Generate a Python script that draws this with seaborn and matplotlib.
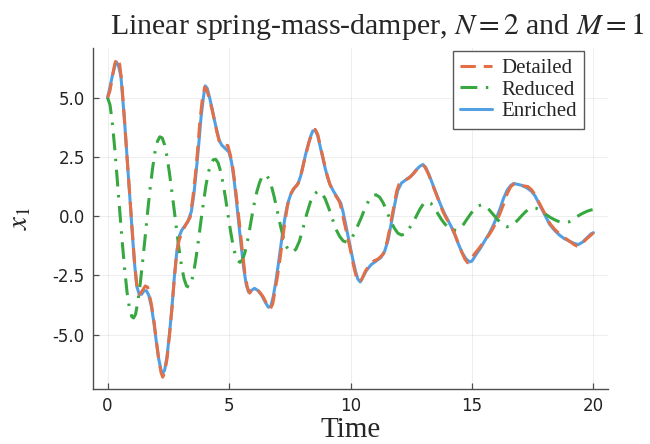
import pandas as pd
import seaborn as sns
import matplotlib.pyplot as plt
from matplotlib.ticker import FormatStrFormatter

# Displacement x_1 of the first mass, as (time, value) pairs for each model
detailed_points = [
    (0.0, 5.0), (0.1, 5.3), (0.2, 5.9), (0.3, 6.45), (0.4, 6.68), (0.5, 6.4), (0.58, 5.7),
    (0.7, 4.0), (0.8, 2.5), (0.9, 1.1), (1.0, -0.4), (1.1, -1.8), (1.2, -2.9), (1.3, -3.3),
    (1.4, -3.2), (1.55, -2.95), (1.65, -3.0), (1.8, -3.7), (1.9, -4.35), (2.0, -5.2),
    (2.1, -6.0), (2.2, -6.6), (2.27, -6.8), (2.35, -6.6), (2.45, -6.0), (2.55, -5.0),
    (2.65, -3.9), (2.75, -2.6), (2.85, -1.5), (2.95, -1.0), (3.1, -0.6), (3.25, -0.3),
    (3.4, -0.05), (3.5, 0.7), (3.6, 1.6), (3.7, 2.7), (3.8, 4.0), (3.9, 4.95), (4.0, 5.45),
    (4.1, 5.3), (4.2, 4.9), (4.3, 4.5), (4.4, 4.05), (4.5, 3.55), (4.6, 3.15), (4.7, 3.0),
    (4.8, 3.0), (4.95, 2.98), (5.05, 2.6), (5.15, 2.1), (5.25, 1.3), (5.35, 0.4),
    (5.45, -0.5), (5.55, -1.5), (5.65, -2.4), (5.75, -3.0), (5.85, -3.25), (5.95, -3.1),
    (6.1, -3.05), (6.25, -3.2), (6.4, -3.4), (6.55, -3.7), (6.7, -3.92), (6.8, -3.7),
    (6.9, -3.1), (7.0, -2.5), (7.1, -1.8), (7.2, -1.0), (7.3, -0.25), (7.4, 0.4),
    (7.5, 0.85), (7.65, 1.15), (7.8, 1.3), (7.9, 1.5), (8.0, 1.9), (8.1, 2.35), (8.2, 2.75),
    (8.3, 3.15), (8.4, 3.45), (8.5, 3.65), (8.55, 3.66), (8.65, 3.45), (8.75, 3.0),
    (8.85, 2.55), (8.95, 2.1), (9.05, 1.7), (9.15, 1.35), (9.25, 1.1), (9.4, 0.85),
    (9.55, 0.6), (9.65, 0.2), (9.75, -0.3), (9.85, -0.75), (9.95, -1.2), (10.05, -1.7),
    (10.15, -2.2), (10.25, -2.6), (10.35, -2.78), (10.45, -2.7), (10.6, -2.35),
    (10.75, -2.1), (10.95, -1.9), (11.15, -1.8), (11.35, -1.6), (11.5, -1.1), (11.6, -0.6),
    (11.7, -0.05), (11.8, 0.5), (11.9, 1.05), (12.0, 1.35), (12.2, 1.5), (12.4, 1.6),
    (12.6, 1.8), (12.8, 2.05), (12.95, 2.16), (13.05, 2.1), (13.2, 1.8), (13.35, 1.4),
    (13.5, 1.0), (13.65, 0.6), (13.8, 0.2), (13.95, -0.1), (14.1, -0.35), (14.25, -0.65),
    (14.4, -1.05), (14.55, -1.45), (14.7, -1.8), (14.82, -1.97), (14.95, -1.85),
    (15.1, -1.6), (15.3, -1.35), (15.5, -1.05), (15.7, -0.8), (15.85, -0.55), (16.0, -0.25),
    (16.15, 0.1), (16.3, 0.5), (16.45, 0.95), (16.6, 1.25), (16.75, 1.37), (16.9, 1.35),
    (17.1, 1.28), (17.3, 1.25), (17.45, 1.12), (17.6, 0.9), (17.75, 0.6), (17.9, 0.3),
    (18.05, 0.0), (18.2, -0.3), (18.4, -0.55), (18.6, -0.75), (18.8, -0.9), (19.0, -1.05),
    (19.2, -1.2), (19.35, -1.28), (19.5, -1.2), (19.7, -0.98), (19.9, -0.8), (20.0, -0.7),
]

reduced_points = [
    (0.0, 5.0), (0.1, 4.7), (0.2, 3.9), (0.3, 2.8), (0.4, 1.5), (0.5, 0.2), (0.6, -1.05),
    (0.7, -2.2), (0.8, -3.2), (0.9, -3.9), (1.0, -4.25), (1.07, -4.3), (1.15, -4.15),
    (1.25, -3.6), (1.35, -2.8), (1.45, -1.85), (1.55, -0.85), (1.65, 0.2), (1.75, 1.15),
    (1.85, 2.0), (1.95, 2.7), (2.05, 3.15), (2.15, 3.35), (2.25, 3.3), (2.35, 3.0),
    (2.45, 2.5), (2.55, 1.8), (2.65, 1.0), (2.75, 0.2), (2.85, -0.65), (2.95, -1.45),
    (3.05, -2.15), (3.15, -2.65), (3.25, -2.95), (3.35, -3.0), (3.45, -2.8), (3.55, -2.35),
    (3.65, -1.7), (3.75, -0.95), (3.85, -0.15), (3.95, 0.6), (4.05, 1.3), (4.15, 1.85),
    (4.25, 2.2), (4.35, 2.38), (4.45, 2.4), (4.55, 2.25), (4.65, 1.9), (4.75, 1.4),
    (4.85, 0.8), (4.95, 0.1), (5.05, -0.55), (5.15, -1.15), (5.25, -1.6), (5.35, -1.88),
    (5.45, -1.95), (5.55, -1.85), (5.65, -1.55), (5.75, -1.1), (5.85, -0.55), (5.95, 0.05),
    (6.05, 0.6), (6.15, 1.05), (6.25, 1.4), (6.35, 1.65), (6.45, 1.75), (6.55, 1.72),
    (6.65, 1.55), (6.75, 1.25), (6.85, 0.85), (6.95, 0.4), (7.05, -0.1), (7.15, -0.55),
    (7.25, -0.95), (7.35, -1.25), (7.45, -1.45), (7.6, -1.52), (7.75, -1.4), (7.9, -1.05),
    (8.05, -0.5), (8.2, 0.1), (8.35, 0.6), (8.5, 0.92), (8.65, 1.05), (8.8, 1.0),
    (8.95, 0.75), (9.1, 0.35), (9.25, -0.1), (9.4, -0.55), (9.55, -0.85), (9.7, -1.05),
    (9.85, -1.1), (10.0, -1.0), (10.15, -0.75), (10.3, -0.4), (10.45, -0.05), (10.6, 0.35),
    (10.75, 0.65), (10.9, 0.85), (11.05, 0.9), (11.2, 0.8), (11.35, 0.55), (11.5, 0.2),
    (11.65, -0.2), (11.8, -0.5), (11.95, -0.72), (12.1, -0.8), (12.25, -0.75),
    (12.4, -0.55), (12.55, -0.3), (12.7, -0.02), (12.85, 0.28), (13.0, 0.52), (13.15, 0.62),
    (13.3, 0.55), (13.45, 0.35), (13.6, 0.1), (13.75, -0.15), (13.9, -0.35), (14.05, -0.5),
    (14.2, -0.58), (14.35, -0.6), (14.5, -0.52), (14.65, -0.35), (14.8, -0.12), (14.95, 0.1),
    (15.1, 0.3), (15.25, 0.43), (15.4, 0.48), (15.55, 0.42), (15.7, 0.28), (15.85, 0.1),
    (16.0, -0.08), (16.15, -0.25), (16.3, -0.38), (16.45, -0.45), (16.6, -0.42),
    (16.75, -0.3), (16.9, -0.15), (17.05, 0.02), (17.2, 0.18), (17.35, 0.3), (17.5, 0.35),
    (17.65, 0.33), (17.8, 0.25), (17.95, 0.14), (18.1, 0.03), (18.25, -0.07), (18.4, -0.15),
    (18.55, -0.22), (18.7, -0.26), (18.85, -0.27), (19.0, -0.24), (19.15, -0.15),
    (19.3, -0.04), (19.45, 0.06), (19.6, 0.14), (19.75, 0.21), (19.9, 0.26), (20.0, 0.28),
]

enriched_points = [
    (0.0, 5.0), (0.1, 5.45), (0.2, 5.95), (0.3, 6.35), (0.37, 6.5), (0.45, 6.35),
    (0.55, 5.9), (0.7, 4.0), (0.8, 2.5), (0.9, 1.05), (1.0, -0.45), (1.1, -1.9),
    (1.2, -2.95), (1.3, -3.3), (1.4, -3.3), (1.5, -3.15), (1.6, -3.15), (1.7, -3.35),
    (1.8, -3.8), (1.9, -4.45), (2.0, -5.25), (2.1, -6.0), (2.2, -6.5), (2.27, -6.65),
    (2.35, -6.5), (2.45, -5.9), (2.55, -4.95), (2.65, -3.85), (2.75, -2.55), (2.85, -1.5),
    (2.95, -0.85), (3.05, -0.6), (3.15, -0.45), (3.3, -0.25), (3.45, 0.2), (3.55, 0.9),
    (3.65, 1.9), (3.75, 3.0), (3.85, 4.2), (3.95, 5.05), (4.02, 5.5), (4.1, 5.4), (4.2, 5.0),
    (4.3, 4.55), (4.4, 4.05), (4.5, 3.6), (4.6, 3.2), (4.7, 3.0), (4.8, 2.9), (4.9, 2.8),
    (5.0, 2.7), (5.1, 2.3), (5.2, 1.6), (5.3, 0.7), (5.4, -0.3), (5.5, -1.25), (5.6, -2.15),
    (5.7, -2.85), (5.8, -3.2), (5.9, -3.15), (6.05, -3.05), (6.2, -3.15), (6.35, -3.35),
    (6.5, -3.65), (6.62, -3.85), (6.72, -3.8), (6.82, -3.4), (6.92, -2.8), (7.02, -2.1),
    (7.12, -1.35), (7.22, -0.6), (7.32, 0.05), (7.42, 0.55), (7.55, 0.95), (7.7, 1.2),
    (7.85, 1.4), (7.95, 1.7), (8.05, 2.15), (8.15, 2.6), (8.25, 3.0), (8.35, 3.35),
    (8.45, 3.6), (8.55, 3.62), (8.65, 3.4), (8.75, 2.95), (8.85, 2.5), (8.95, 2.05),
    (9.05, 1.65), (9.15, 1.35), (9.3, 1.05), (9.45, 0.8), (9.6, 0.55), (9.7, 0.15),
    (9.8, -0.35), (9.9, -0.85), (10.0, -1.35), (10.1, -1.85), (10.2, -2.3), (10.3, -2.65),
    (10.4, -2.78), (10.5, -2.6), (10.65, -2.3), (10.85, -2.05), (11.05, -1.9),
    (11.25, -1.75), (11.4, -1.5), (11.55, -1.0), (11.65, -0.45), (11.75, 0.1), (11.85, 0.65),
    (11.95, 1.1), (12.1, 1.4), (12.3, 1.55), (12.5, 1.7), (12.7, 1.95), (12.85, 2.1),
    (12.98, 2.18), (13.1, 2.05), (13.25, 1.7), (13.4, 1.3), (13.55, 0.9), (13.7, 0.5),
    (13.85, 0.15), (14.0, -0.15), (14.15, -0.45), (14.3, -0.8), (14.45, -1.2), (14.6, -1.55),
    (14.75, -1.8), (14.9, -1.93), (15.0, -1.9), (15.15, -1.65), (15.35, -1.35),
    (15.55, -1.0), (15.7, -0.75), (15.85, -0.45), (16.0, -0.1), (16.15, 0.3), (16.3, 0.75),
    (16.45, 1.1), (16.6, 1.3), (16.72, 1.38), (16.85, 1.35), (17.05, 1.3), (17.25, 1.2),
    (17.45, 1.05), (17.6, 0.85), (17.75, 0.55), (17.9, 0.25), (18.05, -0.05), (18.2, -0.35),
    (18.4, -0.6), (18.6, -0.8), (18.8, -0.95), (19.0, -1.05), (19.2, -1.15), (19.38, -1.2),
    (19.55, -1.1), (19.75, -0.9), (19.9, -0.75), (20.0, -0.7),
]

series_names = ["Detailed", "Reduced", "Enriched"]
x_ticks = [0, 5, 10, 15, 20]
y_ticks = [-5.0, -2.5, 0.0, 2.5, 5.0]

c_detailed = "#e26f46"
c_reduced = "#36a83f"
c_enriched = "#539fe4"

sns.set_theme(style="ticks")
plt.rcParams["font.family"] = ["DejaVu Sans"]
plt.rcParams["mathtext.fontset"] = "stix"

fig = plt.figure(figsize=(6.5, 4.44), dpi=100)
ax = fig.add_axes([93 / 650, 55 / 444, 515 / 650, 341 / 444])

df_d = pd.DataFrame(detailed_points, columns=["t", "x"])
df_r = pd.DataFrame(reduced_points, columns=["t", "x"])
df_e = pd.DataFrame(enriched_points, columns=["t", "x"])

# Solid enriched curve underneath, dashed detailed curve drawn on top of it
sns.lineplot(data=df_e, x="t", y="x", ax=ax, color=c_enriched, lw=2.2,
             label="Enriched", sort=False, estimator=None, zorder=2)
sns.lineplot(data=df_r, x="t", y="x", ax=ax, color=c_reduced, lw=2.2,
             linestyle=(0, (5.5, 2.8, 0.8, 2.8)), label="Reduced",
             sort=False, estimator=None, zorder=3)
sns.lineplot(data=df_d, x="t", y="x", ax=ax, color=c_detailed, lw=2.2,
             linestyle=(0, (5, 2.6)), label="Detailed",
             sort=False, estimator=None, zorder=4)

ax.set_xlim(-0.6, 20.6)
ax.set_ylim(-7.3, 7.1)
ax.set_xticks(x_ticks)
ax.set_yticks(y_ticks)
ax.yaxis.set_major_formatter(FormatStrFormatter("%.1f"))
ax.grid(True, color="black", alpha=0.08, lw=0.6)
ax.tick_params(direction="in", length=4, width=0.9, color="0.3",
               labelsize=12, labelcolor="#222222", pad=6)
for side in ("top", "right"):
    ax.spines[side].set_visible(False)
for side in ("left", "bottom"):
    ax.spines[side].set_color("0.3")
    ax.spines[side].set_linewidth(1.0)

ax.set_xlabel("Time", family="Liberation Serif", fontsize=21, labelpad=1)
ax.set_ylabel(r"$x_1$", fontsize=21, labelpad=14)

fig.text(377 / 650, 1 - 26 / 444,
         r"Linear spring-mass-damper, $N = 2$ and $M = 1$",
         family="Liberation Serif", fontsize=21.5, ha="center", va="center")

handles, labels = ax.get_legend_handles_labels()
order = [labels.index(n) for n in series_names]
leg = ax.legend([handles[i] for i in order], [labels[i] for i in order],
                loc="upper right", bbox_to_anchor=(0.953, 0.991), borderaxespad=0,
                fancybox=False, edgecolor="0.35", framealpha=1,
                prop={"family": "Liberation Serif", "size": 15},
                handlelength=1.5, handletextpad=0.45, labelspacing=0.1,
                borderpad=0.35)
leg.get_frame().set_linewidth(1.0)

fig.savefig("out.png", dpi=100)
